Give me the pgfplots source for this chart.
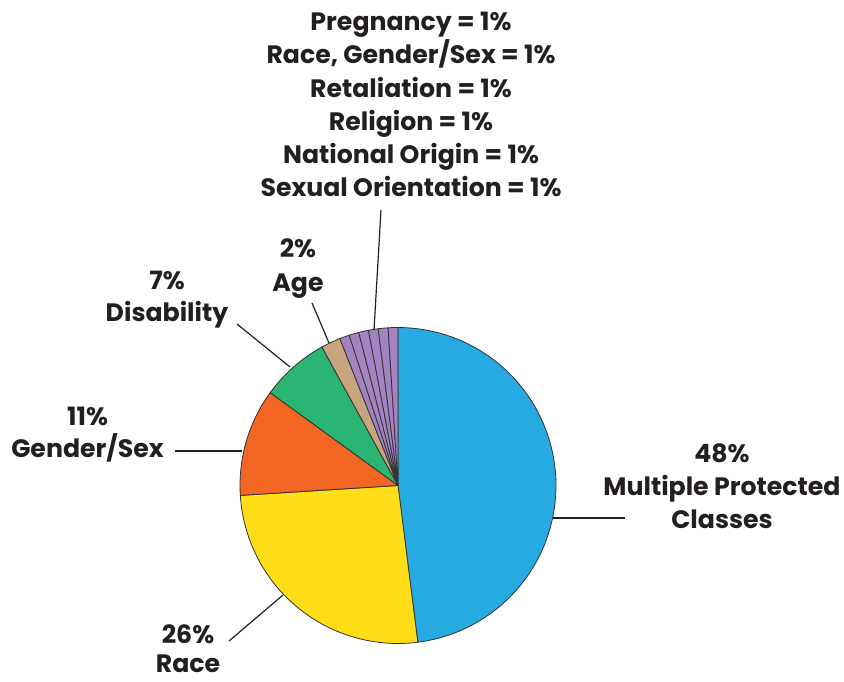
\documentclass[border=0pt]{standalone}
\usepackage{pgfplots}
\usepackage{pgfplotstable}
\pgfplotsset{compat=1.18}
\usepackage{fontspec}
\setmainfont{Poppins}
\definecolor{cblue}{HTML}{27A9E1}
\definecolor{cyellow}{HTML}{FFDD17}
\definecolor{corange}{HTML}{F26522}
\definecolor{cgreen}{HTML}{2BB573}
\definecolor{ctan}{HTML}{C9A57F}
\definecolor{cpurple}{HTML}{A383C1}
\definecolor{edgec}{HTML}{333333}
\definecolor{txt}{HTML}{231F20}
\pgfplotstableread{
label value color
Multiple 48 cblue
Race 26 cyellow
Gender 11 corange
Disability 7 cgreen
Age 2 ctan
SexOrient 1 cpurple
NatOrigin 1 cpurple
Religion 1 cpurple
Retaliation 1 cpurple
RaceGender 1 cpurple
Pregnancy 1 cpurple
}\piedata
\begin{document}
\begin{tikzpicture}
\begin{axis}[
  width=844bp, height=682bp, scale only axis,
  xmin=0, xmax=844, ymin=0, ymax=682,
  hide axis, clip=false,
]
\def\cum{0}
\pgfplotsforeachungrouped \i in {0,...,10}{%
  \pgfplotstablegetelem{\i}{value}\of\piedata \let\v\pgfplotsretval
  \pgfplotstablegetelem{\i}{color}\of\piedata \let\c\pgfplotsretval
  \pgfmathsetmacro\a{90-3.6*\cum}%
  \pgfmathsetmacro\cum{\cum+\v}%
  \pgfmathsetmacro\b{90-3.6*\cum}%
  \edef\doslice{\noexpand\addplot[fill=\c, draw=edgec, line width=0.8pt, line join=round, domain=\b:\a, samples=60, variable=\noexpand\t] ({398+158*cos(\noexpand\t)},{196.5+158*sin(\noexpand\t)}) -- (398,196.5) -- cycle;}%
  \doslice
}
% leader lines
\addplot[txt, line width=1.2pt] coordinates {(381,472) (374,352)};
\addplot[txt, line width=1.2pt] coordinates {(312,379) (329,339)};
\addplot[txt, line width=1.2pt] coordinates {(237,358) (290,315)};
\addplot[txt, line width=1.2pt] coordinates {(175,231) (242,231)};
\addplot[txt, line width=1.2pt] coordinates {(553,164) (625,164)};
\addplot[txt, line width=1.2pt] coordinates {(229,41) (283,87)};
% labels (anchored at baselines)
\tikzset{lbl/.style={anchor=base, text=txt, font=\fontsize{25.3}{33}\selectfont\bfseries, inner sep=0pt}}
\node[lbl] at (411,651.3) {Pregnancy = 1\%};
\node[lbl] at (411,618) {Race, Gender/Sex = 1\%};
\node[lbl] at (411,584.7) {Retaliation = 1\%};
\node[lbl] at (411,551.4) {Religion = 1\%};
\node[lbl] at (411,518) {National Origin = 1\%};
\node[lbl] at (411,485) {Sexual Orientation = 1\%};
\node[lbl] at (298,424) {2\%};
\node[lbl] at (298,390) {Age};
\node[lbl] at (167,392) {7\%};
\node[lbl] at (167,360) {Disability};
\node[lbl] at (87.5,256.3) {11\%};
\node[lbl] at (87.5,224) {Gender/Sex};
\node[lbl] at (722,219) {48\%};
\node[lbl] at (722,186) {Multiple Protected};
\node[lbl] at (722,153) {Classes};
\node[lbl] at (188,38) {26\%};
\node[lbl] at (188,9.5) {Race};
\end{axis}
\pgfresetboundingbox
\path (current axis.south west) rectangle (current axis.north east);
\end{tikzpicture}
\end{document}
